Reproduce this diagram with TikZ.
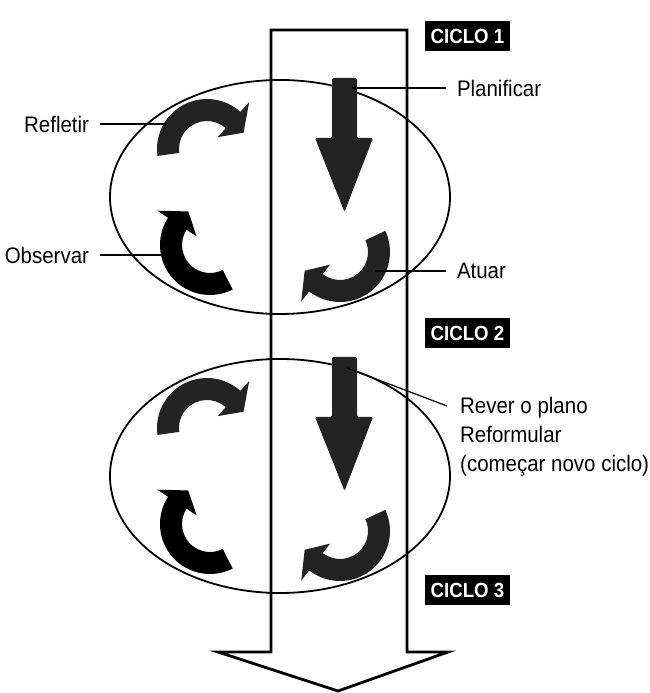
\documentclass[tikz,border=0pt]{standalone}
\usepackage{fontspec}
\setmainfont[FakeStretch=0.91]{Liberation Sans}
\usetikzlibrary{calc}
\definecolor{ink}{HTML}{232323}
\tikzset{every node/.style={font=\fontsize{22.5}{29}\selectfont,inner sep=0pt},ring/.style={line width=1.8pt},leader/.style={line width=1.2pt},lbl/.style={outer xsep=11pt},ciclo/.style={fill=black,text=white,minimum width=85pt,minimum height=30pt,font=\fontsize{20.5}{22}\selectfont\bfseries}}
\newcommand{\turnarrow}[4]{\fill[#1,shift={#2}] (#3:50) arc[start angle=#3,end angle=#4,radius=50] -- (#4:63) -- ({#4-24}:40) -- (#4:16) -- (#4:28) arc[start angle=#4,end angle=#3,radius=28] -- cycle;}
\begin{document}
\begin{tikzpicture}[x=1pt,y=1pt]
\useasboundingbox (0,0) rectangle (649,693);
\draw[line width=2.8pt] (271,41) -- (271,663) -- (407,663) -- (407,41) -- (448,41) -- (338,2) -- (218,41) -- cycle;
\foreach \dy in {0,-279}{\begin{scope}[yshift=\dy]
\draw[ring] (280,496) ellipse[x radius=170,y radius=117];
\fill[ink,rounded corners=1.5pt] (332,555) -- (332,615) -- (357,615) -- (357,555) -- (373,555) -- (344.5,481) -- (315,555) -- cycle;
\turnarrow{ink}{(207,544)}{188}{48}\turnarrow{black}{(210,448)}{-63}{-213}\turnarrow{ink}{(340,441)}{25}{-128}
\end{scope}}
\node[ciclo] (c1) at (467.5,657) {CICLO 1};\node[ciclo] (c2) at (467.5,360) {CICLO 2};\node[ciclo] (c3) at (467.5,103) {CICLO 3};
\node[lbl,anchor=east] (refl) at (100,569) {Refletir};\node[lbl,anchor=east] (obs) at (100,438) {Observar};
\node[lbl,anchor=west] (plan) at (446,605) {Planificar};\node[lbl,anchor=west] (atu) at (446,422) {Atuar};
\node[anchor=north west,align=left] (rever) at (460,296) {Rever o plano\\Reformular\\(começar novo ciclo)};
\coordinate (p-refl) at (167,569);\coordinate (p-obs) at (166,438);\coordinate (p-plan) at (352,605);\coordinate (p-atu) at (375,422);\coordinate (p-rever) at (347,325);
\draw[leader] (refl) -- (p-refl);\draw[leader] (obs) -- (p-obs);\draw[leader] (plan) -- (p-plan);\draw[leader] (atu) -- (p-atu);
\draw[leader] (p-rever) -- ([xshift=-13pt,yshift=-9pt]rever.north west);
\end{tikzpicture}
\end{document}
